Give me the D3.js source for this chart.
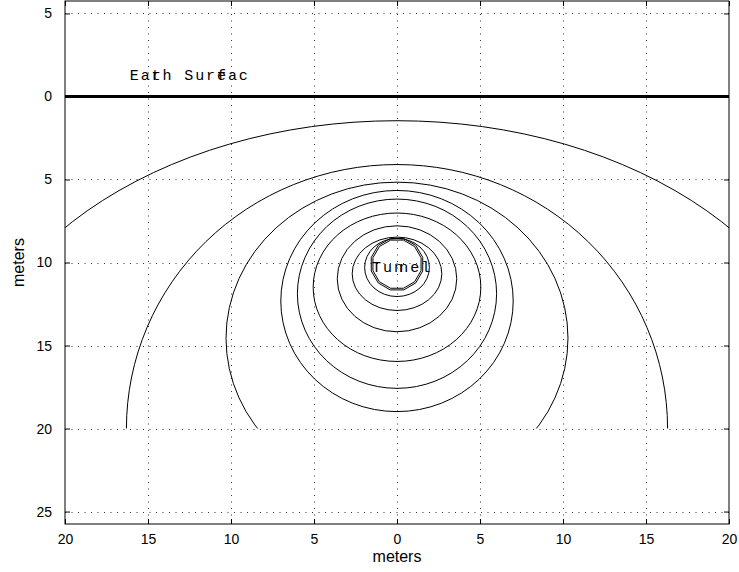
<!DOCTYPE html>
<html>
<head>
<meta charset="utf-8">
<script src="https://cdn.jsdelivr.net/npm/d3@7"></script>
<style>
  body { margin: 0; background: #fff; }
  text { font-family: "Liberation Sans", Arial, sans-serif; }
</style>
</head>
<body>
<div id="chart"></div>
<script>
    // tick values (labels are shown without sign)
    const xTicks = [-20, -15, -10, -5, 0, 5, 10, 15, 20];
    const yTicks = [-5, 0, 5, 10, 15, 20, 25];

    const contourCy = [20.0, 20.0, 14.56, 12.32, 11.88, 11.49, 10.98, 10.68, 10.3];
    const contourRx = [26.4, 16.3, 10.3, 7.0, 6.0, 5.05, 3.6, 2.7, 1.95];
    const contourRy = [18.54, 15.9, 9.40, 6.66, 5.70, 4.47, 3.19, 2.21, 1.75];

    // tunnel outline (two coarse polygons)
    const tunnelX1 = [0.39, 1.06, 1.45, 1.45, 1.06, 0.39, -0.39, -1.06, -1.45, -1.45, -1.06, -0.39];
    const tunnelY1 = [8.65, 9.04, 9.71, 10.49, 11.16, 11.55, 11.55, 11.16, 10.49, 9.71, 9.04, 8.65];
    const tunnelX2 = [0.41, 1.13, 1.55, 1.55, 1.13, 0.41, -0.41, -1.13, -1.55, -1.55, -1.13, -0.41];
    const tunnelY2 = [8.56, 8.97, 9.69, 10.51, 11.23, 11.65, 11.65, 11.23, 10.51, 9.69, 8.97, 8.56];

    const surfaceDepth = 0;
    const gridXExtent = [-20, 20];
    const gridYExtent = [0, 20];

    const w = 739;
    const h = 572;
    const margin = { top: 1, right: 10, bottom: 48, left: 65 };

    const svg = d3.select('#chart')
        .append('svg')
        .attr('width', w)
        .attr('height', h);

    const xScale = d3.scaleLinear()
        .domain([-20, 20])
        .range([margin.left, w - margin.right]);

    const yScale = d3.scaleLinear()
        .domain([-5.75, 25.75])
        .range([margin.top, h - margin.bottom]);

    const fmt = (d) => Math.abs(d);

    // dotted grid
    svg.append('g')
        .selectAll('line')
        .data(xTicks.slice(1, -1))
        .enter()
        .append('line')
        .attr('x1', (d) => xScale(d) + 0.5)
        .attr('x2', (d) => xScale(d) + 0.5)
        .attr('y1', margin.top)
        .attr('y2', h - margin.bottom)
        .attr('stroke', '#333')
        .attr('stroke-width', 1)
        .attr('stroke-dasharray', '1,5.5');

    svg.append('g')
        .selectAll('line')
        .data(yTicks)
        .enter()
        .append('line')
        .attr('x1', margin.left)
        .attr('x2', w - margin.right)
        .attr('y1', (d) => Math.round(yScale(d)) + 0.5)
        .attr('y2', (d) => Math.round(yScale(d)) + 0.5)
        .attr('stroke', '#333')
        .attr('stroke-width', 1)
        .attr('stroke-dasharray', '1,5.5');

    // contours, clipped to the computed grid
    svg.append('clipPath')
        .attr('id', 'clip')
        .append('rect')
        .attr('x', xScale(gridXExtent[0]))
        .attr('y', yScale(gridYExtent[0]))
        .attr('width', xScale(gridXExtent[1]) - xScale(gridXExtent[0]))
        .attr('height', yScale(gridYExtent[1]) - yScale(gridYExtent[0]));

    svg.append('g')
        .attr('clip-path', 'url(#clip)')
        .selectAll('ellipse')
        .data(contourCy)
        .enter()
        .append('ellipse')
        .attr('cx', xScale(0))
        .attr('cy', (d) => yScale(d))
        .attr('rx', (d, i) => xScale(contourRx[i]) - xScale(0))
        .attr('ry', (d, i) => yScale(contourRy[i]) - yScale(0))
        .attr('fill', 'none')
        .attr('stroke', '#000')
        .attr('stroke-width', 1);

    const line = d3.line()
        .x((d) => xScale(d[0]))
        .y((d) => yScale(d[1]))
        .curve(d3.curveLinearClosed);

    svg.append('path')
        .attr('d', line(tunnelX1.map((x, i) => [x, tunnelY1[i]])))
        .attr('fill', 'none')
        .attr('stroke', '#000');

    svg.append('path')
        .attr('d', line(tunnelX2.map((x, i) => [x, tunnelY2[i]])))
        .attr('fill', 'none')
        .attr('stroke', '#000');

    // earth surface
    svg.append('line')
        .attr('x1', margin.left)
        .attr('x2', w - margin.right)
        .attr('y1', yScale(surfaceDepth))
        .attr('y2', yScale(surfaceDepth))
        .attr('stroke', '#000')
        .attr('stroke-width', 3);

    // labels in the plot (glyphs overlap as in the original)
    const cw = 10.9;
    const earth = svg.append('text')
        .attr('x', xScale(-16.1))
        .attr('y', yScale(-1.0))
        .style('font-family', '"Liberation Mono", "Courier New", monospace')
        .style('font-size', '15px')
        .style('letter-spacing', '1.9px');
    earth.append('tspan').text('Ear');
    earth.append('tspan').attr('dx', -cw).text('t');
    earth.append('tspan').text('h Surf');
    earth.append('tspan').attr('dx', -cw).text('e');
    earth.append('tspan').text('ac');

    const tunnel = svg.append('text')
        .attr('x', xScale(-1.5))
        .attr('y', yScale(10.55))
        .style('font-family', '"Liberation Mono", "Courier New", monospace')
        .style('font-size', '15px')
        .style('letter-spacing', '1.9px');
    tunnel.append('tspan').text('Tun');
    tunnel.append('tspan').attr('dx', -cw / 2).text('nel');

    // axes with inward ticks on all four sides
    const xAxis = d3.axisBottom(xScale).tickValues(xTicks).tickFormat(fmt).tickSize(-5).tickPadding(10);
    const yAxis = d3.axisLeft(yScale).tickValues(yTicks).tickFormat(fmt).tickSize(-5).tickPadding(13);
    const xTop = d3.axisTop(xScale).tickValues(xTicks).tickFormat('').tickSize(-5);
    const yRight = d3.axisRight(yScale).tickValues(yTicks).tickFormat('').tickSize(-5);

    const axes = [
        [xAxis, 'translate(0,' + (h - margin.bottom) + ')'],
        [yAxis, 'translate(' + margin.left + ',0)'],
        [xTop, 'translate(0,' + margin.top + ')'],
        [yRight, 'translate(' + (w - margin.right) + ',0)']
    ];
    axes.forEach(function (a) {
        const g = svg.append('g').attr('transform', a[1]).call(a[0]);
        g.select('.domain').remove();
        g.selectAll('line').attr('stroke', '#000');
        g.selectAll('text')
            .style('font-family', '"Liberation Sans", Arial, sans-serif')
            .style('font-size', '14px')
            .attr('fill', '#000');
    });

    svg.append('rect')
        .attr('x', margin.left)
        .attr('y', margin.top)
        .attr('width', w - margin.left - margin.right)
        .attr('height', h - margin.top - margin.bottom)
        .attr('fill', 'none')
        .attr('stroke', '#000')
        .attr('stroke-width', 1);

    svg.append('text')
        .attr('x', (margin.left + w - margin.right) / 2)
        .attr('y', 562)
        .attr('text-anchor', 'middle')
        .style('font-size', '16px')
        .text('meters');

    svg.append('text')
        .attr('transform', 'translate(24,' + yScale(10) + ') rotate(-90)')
        .attr('text-anchor', 'middle')
        .style('font-size', '16px')
        .text('meters');
</script>
</body>
</html>
